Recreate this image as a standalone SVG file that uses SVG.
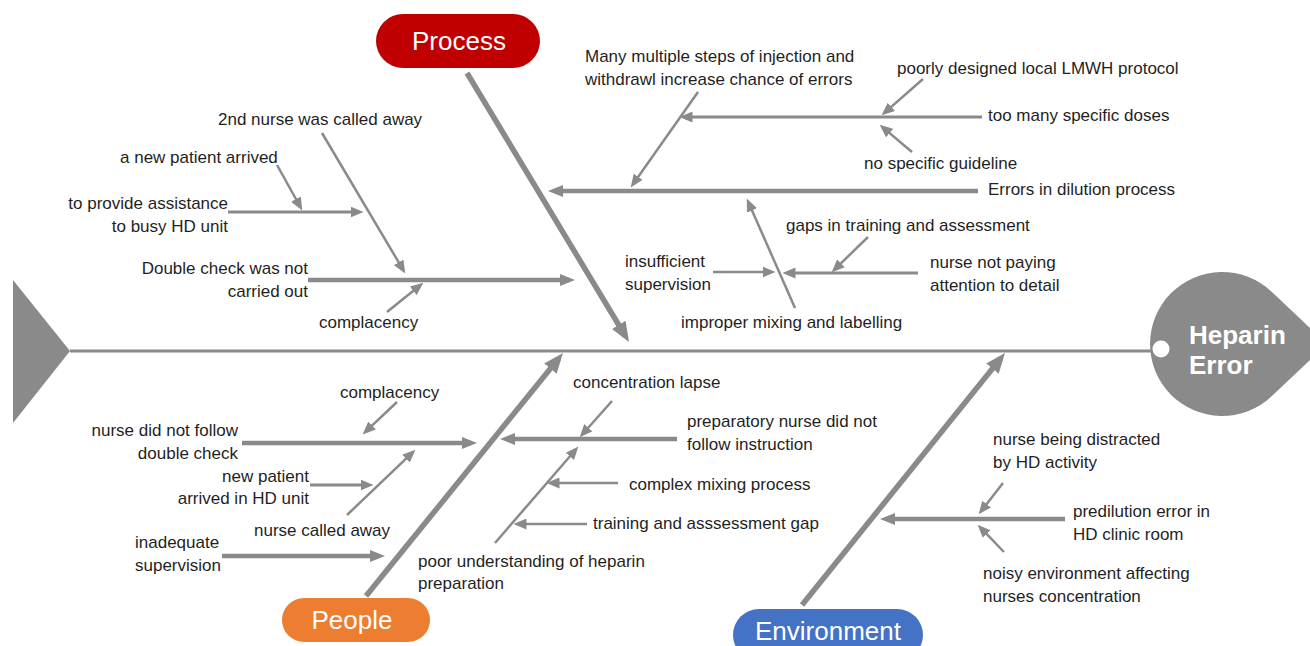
<svg xmlns="http://www.w3.org/2000/svg" width="1310" height="646" viewBox="0 0 1310 646">
<defs>
<style>
.t{font-family:"Liberation Sans",Arial,sans-serif;font-size:17px;fill:#1f1f1f}
.e{text-anchor:end}
.cat{font-family:"Liberation Sans",Arial,sans-serif;fill:#fff;text-anchor:middle}
.ln{stroke:#8a8a8a;fill:none;stroke-linecap:butt}
.w5{stroke-width:5.5;marker-end:url(#mBig)}
.w45{stroke-width:4.5;marker-end:url(#mMed)}
.w3{stroke-width:3;marker-end:url(#mSm)}
.w25{stroke-width:2.5;marker-end:url(#mSm)}
</style>
<marker id="mBig" markerUnits="userSpaceOnUse" markerWidth="20" markerHeight="16" refX="13" refY="8" orient="auto"><path d="M0,0 L20,8 L0,16 z" fill="#8a8a8a"/></marker>
<marker id="mMed" markerUnits="userSpaceOnUse" markerWidth="15" markerHeight="12" refX="9" refY="6" orient="auto"><path d="M0,0 L15,6 L0,12 z" fill="#8a8a8a"/></marker>
<marker id="mSm" markerUnits="userSpaceOnUse" markerWidth="13" markerHeight="11" refX="8.5" refY="5.5" orient="auto"><path d="M0,0 L13,5.5 L0,11 z" fill="#8a8a8a"/></marker>
</defs>
<rect width="1310" height="646" fill="#fff"/>

<g id="tail"><path d="M13,280 L70,351 L13,423 Z" fill="#8a8a8a"/></g>

<g id="connectors">
<line class="ln" x1="70" y1="351" x2="1152" y2="351" stroke-width="3"/>
<line class="ln w5" x1="467" y1="73" x2="625.4" y2="336"/>
<line class="ln w5" x1="366" y1="596" x2="558.6" y2="358.5"/>
<line class="ln w5" x1="802" y1="605" x2="1000.6" y2="358.5"/>
<line class="ln w45" x1="978" y1="191" x2="554" y2="191"/>
<line class="ln w25" x1="698" y1="92" x2="633.3" y2="183.7"/>
<line class="ln w3" x1="982" y1="117" x2="684" y2="117"/>
<line class="ln w25" x1="923" y1="79" x2="885" y2="112.4"/>
<line class="ln w25" x1="912" y1="152" x2="883.1" y2="127.6"/>
<line class="ln w25" x1="795" y1="308" x2="748.6" y2="202.7"/>
<line class="ln w25" x1="713" y1="272" x2="771" y2="272"/>
<line class="ln w3" x1="918" y1="273" x2="787" y2="273"/>
<line class="ln w25" x1="868" y1="237" x2="834.9" y2="269.2"/>
<line class="ln w45" x1="308" y1="280" x2="569" y2="280"/>
<line class="ln w25" x1="322" y1="133" x2="403" y2="269.6"/>
<line class="ln w3" x1="228" y1="212" x2="359" y2="212"/>
<line class="ln w25" x1="277" y1="165" x2="300.1" y2="206.5"/>
<line class="ln w25" x1="387" y1="312" x2="419.9" y2="285.5"/>
<line class="ln w45" x1="242" y1="443" x2="471" y2="443"/>
<line class="ln w25" x1="397" y1="402" x2="365.9" y2="431.3"/>
<line class="ln w3" x1="310" y1="485" x2="369" y2="485"/>
<line class="ln w25" x1="347" y1="515" x2="412.1" y2="452.8"/>
<line class="ln w45" x1="222" y1="556" x2="379" y2="556"/>
<line class="ln w45" x1="677" y1="439" x2="506" y2="439"/>
<line class="ln w25" x1="612" y1="401" x2="582.7" y2="434"/>
<line class="ln w25" x1="495" y1="543" x2="575.4" y2="450"/>
<line class="ln w25" x1="618" y1="483" x2="551" y2="483"/>
<line class="ln w25" x1="587" y1="524" x2="518" y2="524"/>
<line class="ln w45" x1="1065" y1="519" x2="886" y2="519"/>
<line class="ln w25" x1="1003" y1="483" x2="981.4" y2="510.8"/>
<line class="ln w25" x1="1004" y1="552" x2="980.8" y2="527.9"/>
</g>

<g id="head">
<path d="M1327,344 L1271.4,291.6 A72,72 0 1 0 1271.4,396.4 Z" fill="#8a8a8a"/>
<circle cx="1161" cy="349" r="8.5" fill="#fff"/>
<text x="1189" y="344" font-family="Liberation Sans,Arial,sans-serif" font-size="26" font-weight="bold" fill="#fff">Heparin</text>
<text x="1189" y="374" font-family="Liberation Sans,Arial,sans-serif" font-size="26" font-weight="bold" fill="#fff">Error</text>
</g>

<g id="cat-process">
<rect x="376" y="14" width="164" height="54" rx="27" fill="#C00000"/>
<text class="cat" x="459" y="50" font-size="26">Process</text>
</g>
<g id="cat-people">
<rect x="282" y="598" width="148" height="44" rx="22" fill="#ED7D31"/>
<text class="cat" x="352" y="629" font-size="26">People</text>
</g>
<g id="cat-environment">
<rect x="733" y="609" width="190" height="52" rx="26" fill="#4472C4"/>
<text class="cat" x="828" y="640" font-size="26">Environment</text>
</g>

<g id="c-many-steps"><text class="t" x="585" y="62">Many multiple steps of injection and</text><text class="t" x="585" y="85">withdrawl increase chance of errors</text></g>
<g id="c-poorly-designed"><text class="t" x="897" y="74">poorly designed local LMWH protocol</text></g>
<g id="c-too-many-doses"><text class="t" x="988" y="121">too many specific doses</text></g>
<g id="c-no-guideline"><text class="t" x="864" y="169">no specific guideline</text></g>
<g id="c-dilution"><text class="t" x="988" y="195">Errors in dilution process</text></g>
<g id="c-gaps-training"><text class="t" x="786" y="231">gaps in training and assessment</text></g>
<g id="c-insufficient"><text class="t" x="625" y="267">insufficient</text><text class="t" x="625" y="290">supervision</text></g>
<g id="c-not-paying"><text class="t" x="930" y="268">nurse not paying</text><text class="t" x="930" y="291">attention to detail</text></g>
<g id="c-improper"><text class="t" x="681" y="328">improper mixing and labelling</text></g>

<g id="c-2nd-nurse"><text class="t" x="218" y="125">2nd nurse was called away</text></g>
<g id="c-new-patient-1"><text class="t" x="120" y="163">a new patient arrived</text></g>
<g id="c-assistance"><text class="t e" x="228" y="209">to provide assistance</text><text class="t e" x="228" y="232">to busy HD unit</text></g>
<g id="c-double-check"><text class="t e" x="308" y="274">Double check was not</text><text class="t e" x="308" y="297">carried out</text></g>
<g id="c-complacency-1"><text class="t" x="319" y="328">complacency</text></g>

<g id="c-complacency-2"><text class="t" x="340" y="398">complacency</text></g>
<g id="c-not-follow"><text class="t e" x="238" y="436">nurse did not follow</text><text class="t e" x="238" y="459">double check</text></g>
<g id="c-new-patient-2"><text class="t e" x="309" y="482">new patient</text><text class="t e" x="309" y="504">arrived in HD unit</text></g>
<g id="c-called-away"><text class="t" x="254" y="536">nurse called away</text></g>
<g id="c-inadequate"><text class="t" x="135" y="548">inadequate</text><text class="t" x="135" y="571">supervision</text></g>

<g id="c-concentration"><text class="t" x="573" y="388">concentration lapse</text></g>
<g id="c-preparatory"><text class="t" x="687" y="427">preparatory nurse did not</text><text class="t" x="687" y="450">follow instruction</text></g>
<g id="c-complex"><text class="t" x="629" y="490">complex mixing process</text></g>
<g id="c-training-gap"><text class="t" x="593" y="529">training and asssessment gap</text></g>
<g id="c-poor-understanding"><text class="t" x="418" y="567">poor understanding of heparin</text><text class="t" x="418" y="589">preparation</text></g>

<g id="c-distracted"><text class="t" x="993" y="445">nurse being distracted</text><text class="t" x="993" y="468">by HD activity</text></g>
<g id="c-predilution"><text class="t" x="1073" y="517">predilution error in</text><text class="t" x="1073" y="540">HD clinic room</text></g>
<g id="c-noisy"><text class="t" x="983" y="579">noisy environment affecting</text><text class="t" x="983" y="602">nurses concentration</text></g>
</svg>
